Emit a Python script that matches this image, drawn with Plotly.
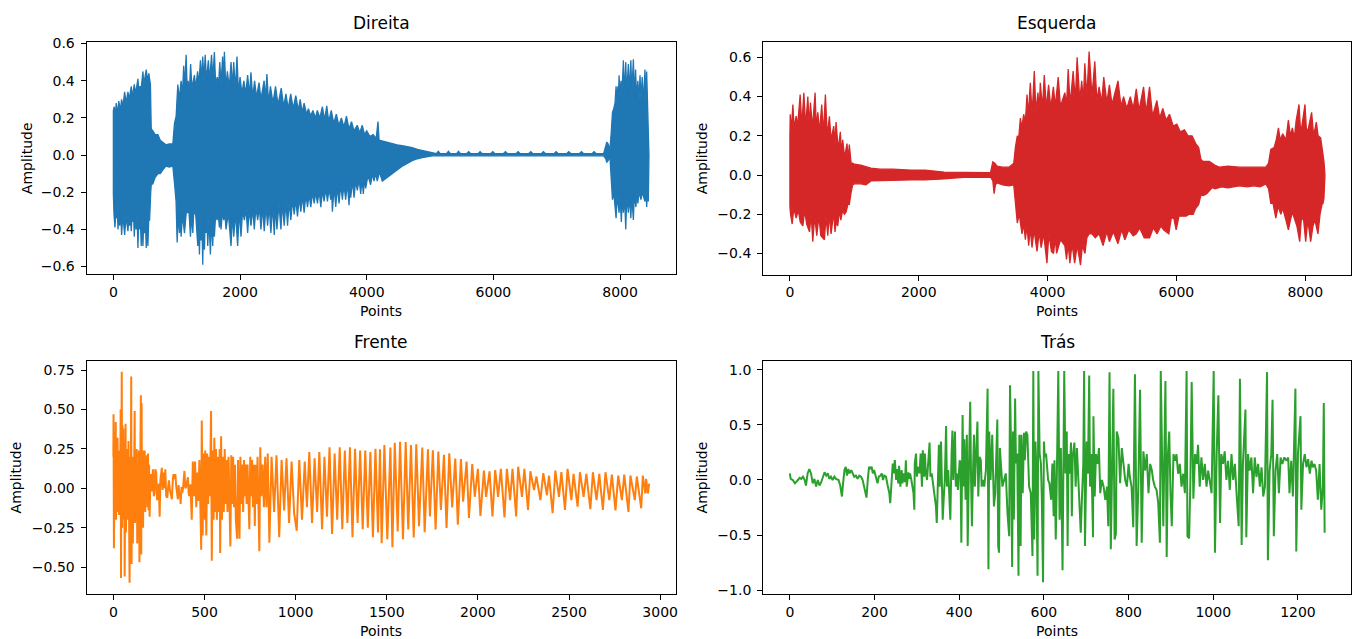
import plotly.graph_objects as go

# ---------------- data ----------------
# Direita: upper / lower outline of the waveform (sample index, amplitude)
D_UP = [(0,0.24),(15,0.26),(30,0.20),(45,0.28),(70,0.22),(85,0.29),(110,0.24),(130,0.30),(150,0.26),(178,0.34),
        (200,0.28),(230,0.34),(250,0.30),(283,0.37),(300,0.31),(330,0.38),(350,0.33),(388,0.41),(400,0.35),(420,0.37),
        (440,0.36),(467,0.45),(480,0.38),(500,0.42),(519,0.46),(540,0.40),(560,0.44),(572,0.41),(585,0.38),(598,0.14),
        (624,0.13),(660,0.11),(703,0.11),(740,0.08),(781,0.07),(830,0.055),(880,0.06),(939,0.06),(965,0.17),(991,0.21),
        (1005,0.30),(1018,0.38),(1040,0.30),(1070,0.40),(1090,0.32),(1110,0.48),(1125,0.36),(1149,0.54),(1165,0.36),(1180,0.40),
        (1200,0.34),(1220,0.49),(1240,0.36),(1280,0.43),(1300,0.36),(1330,0.45),(1350,0.38),(1375,0.51),(1395,0.40),(1411,0.53),
        (1430,0.40),(1450,0.54),(1470,0.40),(1500,0.51),(1520,0.40),(1550,0.54),(1570,0.41),(1595,0.555),(1615,0.38),(1640,0.42),
        (1660,0.37),(1680,0.50),(1700,0.38),(1725,0.53),(1740,0.38),(1753,0.556),(1775,0.36),(1800,0.45),(1830,0.36),(1858,0.50),
        (1880,0.36),(1900,0.50),(1925,0.35),(1952,0.53),(1975,0.33),(2000,0.42),(2030,0.33),(2060,0.40),(2090,0.33),(2120,0.43),
        (2150,0.32),(2172,0.445),(2200,0.31),(2230,0.40),(2260,0.31),(2300,0.39),(2330,0.30),(2380,0.40),(2400,0.30),(2424,0.436),
        (2450,0.28),(2480,0.37),(2520,0.28),(2560,0.37),(2600,0.27),(2650,0.36),(2690,0.26),(2724,0.33),(2760,0.25),(2800,0.33),
        (2840,0.25),(2880,0.32),(2920,0.24),(2950,0.30),(2980,0.23),(3012,0.28),(3050,0.22),(3080,0.25),(3115,0.21),(3150,0.24),
        (3190,0.20),(3220,0.24),(3260,0.20),(3300,0.26),(3335,0.19),(3369,0.265),(3400,0.18),(3440,0.24),(3480,0.17),(3520,0.22),
        (3560,0.16),(3600,0.20),(3640,0.15),(3680,0.21),(3720,0.14),(3760,0.18),(3800,0.13),(3850,0.16),(3890,0.12),(3930,0.16),
        (3965,0.11),(4000,0.13),(4050,0.10),(4100,0.11),(4150,0.09),(4178,0.18),(4195,0.08),(4246,0.075),(4300,0.07),(4404,0.06),
        (4480,0.055),(4561,0.05),(4640,0.045),(4719,0.04),(4800,0.03),(4876,0.025),(4950,0.02),(5034,0.012),(5100,0.008),(5130,0.02),
        (5160,0.008),(5260,0.008),(5290,0.02),(5320,0.008),(5420,0.008),(5450,0.02),(5480,0.008),(5580,0.008),(5610,0.018),(5640,0.008),
        (5760,0.008),(5790,0.018),(5820,0.008),(5960,0.008),(5990,0.018),(6020,0.008),(6160,0.008),(6190,0.018),(6220,0.008),(6360,0.008),
        (6390,0.018),(6420,0.008),(6560,0.008),(6590,0.018),(6620,0.008),(6760,0.008),(6790,0.018),(6820,0.008),(6960,0.008),(6990,0.018),
        (7020,0.008),(7160,0.008),(7190,0.018),(7220,0.008),(7360,0.008),(7390,0.018),(7420,0.008),(7560,0.008),(7590,0.018),(7620,0.008),
        (7740,0.008),(7775,0.05),(7790,0.07),(7810,0.06),(7840,0.03),(7860,0.12),(7880,0.23),(7900,0.25),(7920,0.28),(7937,0.37),
        (7950,0.28),(7965,0.37),(7975,0.30),(7984,0.43),(8000,0.31),(8015,0.40),(8030,0.33),(8052,0.51),(8065,0.33),(8090,0.50),
        (8105,0.33),(8131,0.49),(8145,0.33),(8170,0.51),(8185,0.33),(8210,0.515),(8225,0.32),(8245,0.46),(8260,0.30),(8280,0.40),
        (8300,0.30),(8315,0.43),(8330,0.30),(8350,0.42),(8370,0.28),(8393,0.46),(8410,0.27),(8420,0.45),(8435,0.24),(8446,0.23),
        (8456,0.0)]
D_LO = [(0,-0.21),(10,-0.32),(25,-0.39),(40,-0.30),(50,-0.34),(60,-0.28),(73,-0.40),(90,-0.30),(100,-0.38),(115,-0.30),
        (130,-0.43),(150,-0.32),(178,-0.43),(200,-0.33),(230,-0.41),(245,-0.33),(260,-0.38),(270,-0.33),(283,-0.41),(295,-0.32),
        (310,-0.36),(320,-0.32),(330,-0.44),(345,-0.33),(360,-0.40),(375,-0.33),(388,-0.50),(400,-0.34),(410,-0.40),(425,-0.34),
        (440,-0.49),(452,-0.34),(467,-0.49),(480,-0.35),(490,-0.42),(505,-0.36),(519,-0.50),(532,-0.36),(545,-0.49),(558,-0.35),
        (572,-0.35),(590,-0.20),(598,-0.16),(624,-0.155),(660,-0.12),(703,-0.10),(740,-0.10),(781,-0.08),(830,-0.06),(880,-0.065),
        (939,-0.06),(965,-0.15),(990,-0.25),(1007,-0.47),(1025,-0.32),(1044,-0.42),(1058,-0.32),(1070,-0.44),(1090,-0.32),(1123,-0.42),
        (1150,-0.31),(1175,-0.31),(1195,-0.31),(1217,-0.44),(1235,-0.32),(1254,-0.42),(1268,-0.31),(1280,-0.31),(1300,-0.32),(1333,-0.49),
        (1346,-0.34),(1359,-0.535),(1372,-0.34),(1385,-0.46),(1398,-0.34),(1411,-0.59),(1425,-0.34),(1438,-0.51),(1450,-0.34),(1464,-0.42),
        (1477,-0.34),(1490,-0.49),(1510,-0.34),(1532,-0.535),(1550,-0.34),(1569,-0.49),(1582,-0.33),(1595,-0.44),(1615,-0.32),(1637,-0.35),
        (1655,-0.31),(1674,-0.39),(1688,-0.31),(1700,-0.40),(1720,-0.31),(1742,-0.35),(1760,-0.31),(1779,-0.40),(1815,-0.31),(1858,-0.49),
        (1880,-0.31),(1900,-0.44),(1930,-0.31),(1962,-0.49),(1990,-0.30),(2015,-0.44),(2040,-0.30),(2068,-0.35),(2095,-0.29),(2120,-0.42),
        (2145,-0.29),(2172,-0.38),(2200,-0.29),(2225,-0.40),(2250,-0.28),(2278,-0.35),(2305,-0.28),(2330,-0.40),(2355,-0.28),(2382,-0.41),
        (2410,-0.27),(2435,-0.38),(2460,-0.27),(2487,-0.42),(2515,-0.27),(2540,-0.43),(2560,-0.27),(2582,-0.40),(2615,-0.26),(2645,-0.40),
        (2670,-0.26),(2697,-0.38),(2725,-0.25),(2750,-0.38),(2775,-0.25),(2802,-0.35),(2830,-0.24),(2855,-0.32),(2880,-0.24),(2907,-0.33),
        (2935,-0.23),(2960,-0.305),(2985,-0.22),(3012,-0.31),(3040,-0.21),(3065,-0.28),(3090,-0.21),(3117,-0.28),(3145,-0.20),(3170,-0.26),
        (3195,-0.20),(3222,-0.26),(3250,-0.19),(3275,-0.28),(3300,-0.19),(3327,-0.25),(3355,-0.18),(3380,-0.25),(3405,-0.18),(3432,-0.24),
        (3445,-0.18),(3458,-0.305),(3485,-0.17),(3511,-0.28),(3535,-0.17),(3563,-0.26),(3590,-0.16),(3616,-0.24),(3640,-0.16),(3668,-0.24),
        (3695,-0.15),(3721,-0.27),(3735,-0.15),(3747,-0.23),(3775,-0.14),(3800,-0.23),(3825,-0.14),(3852,-0.19),(3880,-0.13),(3905,-0.21),
        (3925,-0.13),(3947,-0.21),(3965,-0.12),(3983,-0.18),(4020,-0.11),(4062,-0.16),(4090,-0.10),(4115,-0.14),(4140,-0.10),(4167,-0.14),
        (4200,-0.09),(4246,-0.14),(4300,-0.13),(4404,-0.10),(4480,-0.08),(4561,-0.06),(4640,-0.045),(4719,-0.03),(4800,-0.02),(4876,-0.014),
        (4950,-0.008),(5034,-0.004),(7740,-0.004),(7775,-0.02),(7790,-0.04),(7810,-0.03),(7840,-0.01),(7860,-0.14),(7880,-0.24),(7900,-0.20),
        (7937,-0.34),(7950,-0.22),(7984,-0.31),(8000,-0.22),(8020,-0.36),(8035,-0.22),(8052,-0.31),(8070,-0.22),(8090,-0.40),(8105,-0.22),
        (8131,-0.31),(8150,-0.22),(8170,-0.34),(8185,-0.22),(8210,-0.35),(8225,-0.21),(8250,-0.28),(8265,-0.20),(8280,-0.26),(8300,-0.20),
        (8330,-0.24),(8350,-0.20),(8393,-0.25),(8410,-0.19),(8420,-0.28),(8435,-0.18),(8446,-0.25),(8456,0.0)]

# Esquerda: upper / lower outline
E_UP = [(0,0.20),(5,0.31),(20,0.22),(46,0.36),(65,0.24),(97,0.30),(120,0.25),(159,0.41),(185,0.25),(216,0.42),
        (245,0.25),(278,0.40),(300,0.25),(319,0.37),(350,0.24),(391,0.42),(410,0.24),(433,0.32),(460,0.22),(494,0.36),
        (520,0.21),(551,0.41),(580,0.20),(613,0.30),(640,0.18),(680,0.25),(700,0.16),(716,0.27),(750,0.13),(783,0.22),
        (800,0.11),(819,0.18),(850,0.09),(886,0.16),(905,0.08),(922,0.155),(950,0.06),(974,0.06),(1000,0.055),(1100,0.05),
        (1258,0.035),(1400,0.03),(1600,0.03),(1876,0.025),(2100,0.025),(2392,0.015),(2700,0.013),(3000,0.012),(3114,0.012),(3150,0.067),
        (3180,0.06),(3217,0.045),(3300,0.04),(3400,0.04),(3475,0.06),(3500,0.14),(3530,0.20),(3552,0.19),(3578,0.29),(3600,0.24),
        (3629,0.31),(3655,0.27),(3681,0.41),(3700,0.30),(3732,0.47),(3760,0.31),(3794,0.53),(3820,0.32),(3850,0.42),(3870,0.33),
        (3887,0.47),(3920,0.34),(3949,0.51),(3980,0.34),(4016,0.46),(4050,0.34),(4090,0.45),(4120,0.35),(4165,0.50),(4200,0.35),
        (4268,0.42),(4295,0.36),(4320,0.54),(4350,0.36),(4397,0.53),(4430,0.38),(4459,0.60),(4500,0.38),(4530,0.48),(4555,0.38),
        (4578,0.57),(4610,0.40),(4645,0.63),(4690,0.40),(4733,0.58),(4765,0.38),(4800,0.45),(4840,0.37),(4872,0.50),(4920,0.37),
        (4960,0.46),(5000,0.36),(5050,0.43),(5093,0.48),(5140,0.35),(5180,0.40),(5230,0.34),(5284,0.40),(5330,0.34),(5377,0.44),
        (5420,0.33),(5490,0.45),(5530,0.32),(5583,0.45),(5630,0.30),(5697,0.38),(5740,0.29),(5789,0.34),(5840,0.28),(5893,0.31),
        (5950,0.25),(6006,0.26),(6060,0.22),(6125,0.23),(6180,0.20),(6243,0.20),(6300,0.16),(6346,0.14),(6380,0.08),(6408,0.07),
        (6511,0.07),(6600,0.05),(6666,0.04),(6800,0.045),(6975,0.04),(7150,0.04),(7388,0.04),(7430,0.06),(7465,0.13),(7517,0.14),
        (7550,0.18),(7584,0.24),(7610,0.18),(7650,0.21),(7700,0.18),(7738,0.28),(7770,0.20),(7800,0.24),(7830,0.19),(7860,0.28),
        (7903,0.36),(7930,0.21),(7960,0.28),(7996,0.36),(8020,0.22),(8050,0.24),(8099,0.32),(8130,0.20),(8172,0.27),(8200,0.20),
        (8239,0.19),(8270,0.12),(8290,0.07),(8306,0.0)]
E_LO = [(0,-0.16),(10,-0.20),(35,-0.25),(60,-0.17),(97,-0.22),(130,-0.18),(160,-0.24),(201,-0.26),(230,-0.18),(260,-0.25),
        (304,-0.29),(330,-0.20),(355,-0.34),(385,-0.21),(417,-0.31),(450,-0.21),(480,-0.31),(536,-0.33),(560,-0.21),(588,-0.31),
        (610,-0.20),(639,-0.30),(680,-0.19),(700,-0.29),(716,-0.24),(742,-0.26),(770,-0.18),(790,-0.23),(819,-0.18),(845,-0.20),
        (871,-0.19),(900,-0.15),(922,-0.15),(950,-0.09),(974,-0.05),(1000,-0.045),(1100,-0.045),(1180,-0.05),(1258,-0.03),(1500,-0.03),
        (1876,-0.025),(2100,-0.025),(2392,-0.02),(2700,-0.012),(3114,-0.01),(3150,-0.03),(3170,-0.095),(3190,-0.05),(3217,-0.04),(3300,-0.05),
        (3400,-0.055),(3475,-0.05),(3500,-0.145),(3530,-0.245),(3560,-0.20),(3603,-0.30),(3630,-0.25),(3655,-0.33),(3680,-0.26),(3707,-0.36),
        (3730,-0.27),(3758,-0.37),(3790,-0.28),(3836,-0.39),(3870,-0.29),(3900,-0.37),(3940,-0.30),(3990,-0.45),(4020,-0.30),(4060,-0.39),
        (4093,-0.40),(4120,-0.32),(4140,-0.40),(4200,-0.33),(4268,-0.36),(4294,-0.43),(4320,-0.35),(4346,-0.45),(4380,-0.35),(4420,-0.45),
        (4460,-0.36),(4511,-0.46),(4540,-0.36),(4580,-0.40),(4610,-0.32),(4645,-0.30),(4690,-0.30),(4740,-0.32),(4800,-0.30),(4861,-0.36),
        (4920,-0.29),(4960,-0.34),(5020,-0.29),(5093,-0.35),(5150,-0.28),(5200,-0.33),(5260,-0.28),(5330,-0.31),(5377,-0.30),(5430,-0.27),
        (5500,-0.32),(5583,-0.32),(5640,-0.27),(5700,-0.30),(5760,-0.26),(5800,-0.28),(5882,-0.30),(5920,-0.22),(5960,-0.22),(5996,-0.28),
        (6040,-0.21),(6100,-0.21),(6150,-0.21),(6200,-0.20),(6260,-0.20),(6300,-0.17),(6346,-0.15),(6382,-0.10),(6420,-0.105),(6470,-0.095),
        (6553,-0.065),(6600,-0.07),(6700,-0.06),(6800,-0.065),(6975,-0.055),(7100,-0.06),(7200,-0.055),(7300,-0.06),(7388,-0.045),(7430,-0.07),
        (7465,-0.145),(7500,-0.145),(7543,-0.22),(7580,-0.16),(7620,-0.20),(7650,-0.17),(7700,-0.23),(7738,-0.28),(7770,-0.23),(7800,-0.19),
        (7840,-0.23),(7870,-0.26),(7914,-0.34),(7940,-0.22),(7975,-0.23),(8007,-0.34),(8040,-0.23),(8084,-0.34),(8120,-0.26),(8150,-0.23),
        (8197,-0.30),(8230,-0.20),(8260,-0.15),(8275,-0.145),(8290,-0.12),(8306,0.0)]

# Frente: waveform vertices (sample index, amplitude)
F_WAVE = [(0,0.20),(1,0.47),(3,-0.38),(5,0.25),(7,-0.05),(9,0.36),(11,-0.17),(13,0.42),(15,-0.20),(18,0.30),
          (20,-0.15),(23,0.32),(25,-0.13),(28,0.24),(31,-0.17),(34,0.20),(37,-0.10),(40,0.50),(42,-0.57),(44,0.10),
          (46,0.74),(48,-0.25),(50,0.40),(52,-0.05),(55,0.38),(57,-0.20),(60,0.20),(62,-0.56),(64,0.30),(67,0.41),
          (69,-0.28),(72,0.25),(74,-0.10),(77,0.18),(80,-0.20),(83,0.30),(86,-0.30),(89,-0.60),(92,0.20),(95,-0.30),
          (98,0.71),(100,-0.48),(102,0.10),(105,0.20),(107,-0.35),(110,0.12),(113,-0.20),(115,0.26),(117,0.49),(119,-0.22),
          (122,0.10),(125,-0.20),(128,0.25),(131,-0.35),(134,0.15),(137,-0.25),(140,0.24),(143,-0.47),(146,0.30),(148,-0.20),
          (151,0.59),(153,-0.42),(155,0.54),(157,-0.10),(160,0.15),(163,-0.25),(166,0.24),(169,-0.10),(172,0.24),(175,-0.15),
          (178,0.20),(181,-0.05),(184,0.21),(187,-0.12),(190,0.22),(193,-0.14),(196,0.15),(199,-0.18),(203,0.05),(208,0.09),
          (212,-0.02),(217,0.12),(222,-0.05),(226,-0.03),(230,0.12),(235,0.10),(240,-0.07),(244,-0.07),(249,0.03),(254,-0.18),
          (258,0.05),(262,0.12),(266,0.13),(270,-0.01),(275,0.10),(280,0.0),(285,0.12),(290,-0.05),(296,-0.06),(300,0.0),
          (305,0.05),(310,-0.01),(315,-0.04),(321,-0.07),(326,0.05),(330,0.09),(335,0.06),(340,0.09),(345,0.01),(349,-0.02),
          (354,-0.07),(358,0.02),(362,-0.05),(366,-0.04),(369,-0.10),(374,0.01),(378,-0.03),(382,0.0),(386,0.05),(390,0.11),
          (395,0.0),(400,0.01),(404,0.04),(409,0.07),(413,-0.03),(416,-0.05),(420,0.02),(423,0.02),(430,-0.20),(436,0.17),
          (442,-0.05),(448,0.17),(455,-0.12),(460,0.10),(466,-0.08),(472,0.18),(478,-0.15),(482,-0.39),(485,0.43),(490,-0.30),
          (494,0.22),(499,-0.20),(504,0.24),(510,-0.30),(515,0.22),(520,-0.10),(525,0.20),(530,-0.05),(536,0.49),(540,-0.46),
          (545,0.24),(550,-0.20),(554,0.32),(559,-0.15),(563,0.25),(568,-0.20),(574,0.20),(579,-0.15),(583,0.25),(586,-0.41),
          (591,0.33),(596,-0.20),(601,0.20),(606,-0.15),(611,0.25),(616,-0.10),(621,0.18),(626,-0.15),(632,0.20),(637,-0.25),
          (642,-0.37),(647,0.21),(652,-0.10),(657,0.20),(662,-0.12),(667,0.15),(672,-0.20),(679,-0.32),(684,0.18),(688,-0.10),
          (692,-0.32),(697,0.20),(702,-0.10),(707,0.15),(712,-0.15),(717,0.18),(721,-0.05),(726,0.15),(731,-0.10),(736,0.15),
          (741,-0.12),(746,-0.26),(751,0.20),(756,-0.05),(761,0.18),(766,-0.12),(771,0.15),(776,-0.24),(781,0.15),(786,-0.10),
          (791,0.20),(796,-0.15),(801,-0.40),(806,0.26),(812,-0.05),(819,0.15),(826,-0.12),(833,0.20),(840,-0.12),(847,0.22),
          (856,-0.345),(868,0.20),(882,-0.15),(895,0.21),(910,-0.31),(923,0.18),(937,-0.14),(950,0.19),(964,-0.22),(978,0.17),
          (992,-0.16),(1006,-0.27),(1020,0.18),(1035,-0.20),(1050,0.17),(1062,-0.12),(1075,0.23),
          (1090,-0.22),(1104,0.19),(1118,-0.15),(1130,0.23),(1145,-0.26),(1158,0.20),(1172,-0.18),(1186,0.26),(1200,-0.29),(1214,0.22),
          (1228,-0.20),(1242,0.26),(1256,-0.26),(1270,0.24),(1284,-0.22),(1298,0.26),(1312,-0.31),(1326,0.25),(1340,-0.22),(1354,0.24),
          (1368,-0.26),(1382,0.24),(1396,-0.25),(1410,0.23),(1424,-0.31),(1438,0.25),(1452,-0.28),(1463,0.247),(1472,-0.349),(1487,0.275),
          (1503,-0.324),(1520,0.258),(1531,-0.374),(1544,0.289),(1560,-0.274),(1573,0.295),(1589,-0.324),(1604,0.293),(1618,-0.262),(1633,0.275),
          (1648,-0.312),(1662,0.279),(1677,-0.241),(1695,0.258),(1708,-0.279),(1726,0.247),(1737,-0.179),(1753,0.241),(1768,-0.262),(1783,0.233),
          (1797,-0.137),(1814,0.212),(1828,-0.252),(1843,0.222),(1859,-0.121),(1876,0.189),(1890,-0.231),(1907,0.185),(1919,-0.085),(1938,0.170),
          (1951,-0.189),(1969,0.154),(1983,-0.054),(2000,0.123),(2014,-0.175),(2033,0.112),(2045,-0.054),(2064,0.108),(2080,-0.179),(2095,0.116),
          (2111,-0.054),(2126,0.123),(2146,-0.185),(2159,0.123),(2177,-0.075),(2190,0.123),(2210,-0.179),(2221,0.137),(2242,-0.054),(2255,0.123),
          (2275,-0.137),(2288,0.108),(2308,-0.012),(2321,0.075),(2343,-0.075),(2359,0.096),(2379,-0.044),(2390,0.081),(2410,-0.158),(2425,0.112),
          (2445,-0.054),(2458,0.102),(2478,-0.137),(2492,0.123),(2513,-0.075),(2525,0.091),(2547,-0.116),(2560,0.102),(2580,-0.054),(2595,0.091),
          (2617,-0.133),(2631,0.102),(2651,-0.075),(2666,0.091),(2686,-0.137),(2700,0.102),(2721,-0.075),(2735,0.087),(2755,-0.141),(2770,0.081),
          (2790,-0.075),(2803,0.087),(2826,-0.150),(2837,0.081),(2861,-0.075),(2872,0.075),(2896,-0.127),(2905,0.081),(2918,-0.033),(2923,0.060),
          (2932,-0.033),(2940,0.029)]

# Tras: waveform vertices (sample index, amplitude)
T_WAVE = [(0,0.06),(2,0.01),(7,0.0),(12,-0.03),(19,0.0),(23,0.02),(27,0.01),(31,0.03),(35,0.0),(38,-0.05),
          (42,0.06),(46,0.10),(50,0.06),(54,-0.03),(58,0.01),(62,-0.06),(66,0.0),(70,-0.05),(74,-0.02),(78,0.03),
          (82,0.07),(86,0.04),(90,0.06),(93,0.01),(97,0.03),(101,0.0),(105,0.03),(109,0.01),(115,0.0),(119,-0.05),
          (123,-0.15),(126,-0.02),(129,0.09),(132,0.12),(135,0.04),(138,0.10),(141,0.06),(145,0.09),(148,0.06),(152,0.03),
          (156,0.04),(160,0.01),(164,0.04),(168,0.03),(172,0.0),(176,-0.06),(181,-0.16),(184,0.0),(187,0.12),(190,0.10),
          (193,0.12),(196,0.06),(199,0.09),(203,0.03),(207,-0.03),(210,0.03),(214,0.04),(217,0.06),(220,0.0),(223,0.04),
          (227,0.03),(231,-0.05),(235,-0.12),(237,-0.21),(240,-0.06),(243,0.15),(245,0.06),(248,0.18),(251,0.0),(253,0.10),
          (256,-0.03),(258,0.13),(261,-0.06),(264,0.09),(266,-0.03),(269,0.06),(272,-0.02),(274,0.18),(276,-0.06),(280,0.07),
          (282,0.01),(284,0.06),(287,0.0),(290,-0.06),(292,-0.12),(294,-0.27),(295,0.15),(298,0.24),(300,0.03),(303,0.12),
          (306,0.06),(309,0.24),(312,-0.06),(314,0.27),(317,0.03),(319,0.24),(321,0.07),(324,0.0),(327,0.18),(330,0.34),
          (332,0.03),(335,0.06),(337,0.0),(339,-0.06),(342,-0.12),(345,-0.24),(347,-0.39),(349,-0.15),(352,0.32),(354,-0.06),
          (357,0.35),(359,0.0),(361,-0.36),(364,-0.12),(366,0.0),(369,0.49),(371,-0.06),(374,0.09),(376,-0.12),(379,-0.36),
          (382,0.24),(384,0.45),(386,0.0),(390,0.44),(392,-0.06),(394,0.06),(397,-0.09),(401,0.18),(403,0.15),(405,-0.57),
          (408,0.59),(410,-0.06),(412,0.37),(415,-0.18),(418,0.41),(420,-0.60),(423,0.12),(426,0.71),(428,0.0),(430,-0.42),
          (433,0.15),(435,0.41),(437,-0.06),(440,0.21),(443,0.53),(445,-0.15),(448,0.21),(451,0.18),(453,-0.06),(456,0.0),
          (459,-0.06),(463,0.09),(467,0.83),(469,-0.81),(471,0.44),(474,0.0),(478,0.41),(480,0.06),(482,-0.24),(485,-0.12),
          (487,0.24),(490,0.55),(492,-0.60),(494,-0.66),(496,0.29),(499,0.12),(502,-0.06),(506,0.0),(510,0.06),(514,-0.30),
          (518,-0.51),(520,0.86),(522,0.41),(525,-0.79),(527,0.44),(529,-0.36),(532,0.74),(534,0.15),(537,0.24),(540,-0.87),
          (542,0.41),(545,-0.60),(547,0.41),(550,-0.12),(553,0.43),(555,0.18),(558,0.44),(561,0.41),(563,0.12),(565,-0.06),
          (569,-0.12),(573,-0.69),(575,0.99),(577,-0.54),(580,0.35),(582,0.12),(585,-0.87),(587,0.99),(590,0.24),(593,0.15),
          (595,-0.15),(598,-0.93),(600,0.35),(602,0.21),(605,0.24),(608,0.09),(610,0.0),(613,-0.03),(617,-0.18),(620,0.15),
          (623,-0.33),(625,0.18),(628,-0.54),(630,-0.12),(634,0.99),(637,-0.36),(640,0.29),(644,-0.82),(648,0.99),(651,0.06),
          (654,0.44),(656,-0.60),(658,0.235),(661,0.057),(664,0.34),(666,-0.33),(668,0.205),(672,0.34),(675,-0.06),(678,0.29),
          (681,0.0),(684,-0.12),(687,-0.48),(690,-0.15),(693,0.146),(695,0.99),(697,-0.60),(701,0.35),(704,0.057),(707,0.95),
          (709,-0.06),(712,0.235),(716,-0.52),(717,0.58),(720,-0.15),(723,0.235),(727,0.146),(730,0.29),(733,-0.12),(737,0.0),
          (741,-0.06),(745,-0.18),(749,-0.06),(752,-0.42),(755,0.98),(758,-0.63),(761,0.086),(764,0.83),(767,-0.54),(770,-0.49),
          (772,0.44),(776,0.38),(780,-0.03),(784,0.29),(788,0.146),(792,0.0),(796,-0.06),(800,0.146),(803,0.027),(807,-0.06),
          (811,-0.43),(815,0.96),(819,-0.60),(823,-0.06),(827,0.82),(831,-0.57),(835,0.26),(839,0.086),(843,0.235),(847,-0.12),
          (851,0.146),(855,0.086),(858,0.0),(862,-0.06),(866,-0.09),(870,-0.21),(874,-0.57),(876,0.99),(879,0.235),(882,-0.42),
          (887,0.90),(890,-0.70),(893,0.235),(896,0.44),(899,-0.12),(902,-0.42),(906,0.235),(910,0.175),(913,0.235),(917,0.057),
          (921,0.146),(925,-0.06),(929,0.057),(933,-0.12),(937,0.99),(939,-0.51),(943,-0.53),(946,0.0),(949,0.89),(953,-0.17),
          (957,0.235),(961,0.146),(964,0.32),(968,-0.06),(972,0.205),(976,0.0),(980,0.146),(984,-0.06),(988,0.086),(992,0.0),
          (996,-0.12),(1001,0.99),(1004,-0.66),(1008,0.235),(1012,0.77),(1016,-0.39),(1019,0.235),(1023,0.146),(1027,0.26),(1031,0.0),
          (1035,0.175),(1039,-0.09),(1043,0.235),(1047,0.0),(1051,0.146),(1055,-0.12),(1060,-0.42),(1063,0.92),(1067,-0.59),(1070,0.146),
          (1076,0.64),(1078,-0.52),(1082,0.235),(1086,0.086),(1090,0.205),(1094,-0.12),(1098,0.205),(1102,0.027),(1106,0.146),(1110,-0.06),
          (1114,0.116),(1118,-0.15),(1122,-0.06),(1127,0.98),(1129,-0.73),(1133,0.086),(1137,0.235),(1140,0.73),(1143,-0.51),(1147,0.086),
          (1151,0.235),(1155,-0.12),(1159,0.205),(1163,0.146),(1168,0.205),(1173,0.175),(1177,0.205),(1180,-0.12),(1184,0.175),(1188,-0.15),
          (1194,0.83),(1196,-0.65),(1200,0.235),(1206,0.58),(1208,-0.27),(1212,0.146),(1216,0.235),(1220,0.116),(1224,0.19),(1228,0.057),
          (1232,0.175),(1235,0.116),(1239,0.146),(1243,0.086),(1247,-0.18),(1251,0.146),(1255,-0.27),(1259,-0.06),(1261,0.70),(1263,-0.48)]

TITLES = ["Direita", "Esquerda", "Frente", "Trás"]
COLORS = ["#1f77b4", "#d62728", "#ff7f0e", "#2ca02c"]
X_LABEL = "Points"
Y_LABEL = "Amplitude"

# ---------------- figure ----------------
W, H = 1358, 639
FONT = "DejaVu Sans"

def px(v):   # horizontal pixel -> paper
    return v / W

def py(v):   # vertical pixel (from top) -> paper
    return 1 - v / H

# axes boxes in pixels: left, right, top, bottom
BOXES = [(86.7, 677.0, 35.7, 272.0), (764.3, 1353.3, 35.7, 272.3),
         (86.7, 677.0, 360.0, 597.3), (764.3, 1353.3, 360.0, 597.3)]
XRANGES = [(-423, 8883), (-415, 8715), (-147, 3087), (-63, 1326)]
YRANGES = [(-0.642, 0.608), (-0.508, 0.678), (-0.671, 0.809), (-1.036, 1.083)]
XDTICK = [2000, 2000, 500, 200]
YDTICK = [0.2, 0.2, 0.25, 0.5]
YFMT = [".1f", ".1f", ".2f", ".1f"]

fig = go.Figure()

def outline(up, lo):
    xs = [p[0] for p in up] + [p[0] for p in reversed(lo)]
    ys = [p[1] for p in up] + [p[1] for p in reversed(lo)]
    return xs + [xs[0]], ys + [ys[0]]

for i, (up, lo) in enumerate([(D_UP, D_LO), (E_UP, E_LO)]):
    xs, ys = outline(up, lo)
    fig.add_trace(go.Scatter(x=xs, y=ys, mode="lines", fill="toself", fillcolor=COLORS[i],
                             line=dict(color=COLORS[i], width=1.3),
                             xaxis=f"x{i+1 if i else ''}", yaxis=f"y{i+1 if i else ''}",
                             hoverinfo="skip", showlegend=False))

for i, wave in [(2, F_WAVE), (3, T_WAVE)]:
    fig.add_trace(go.Scatter(x=[p[0] for p in wave], y=[p[1] for p in wave], mode="lines",
                             line=dict(color=COLORS[i], width=2),
                             xaxis=f"x{i+1}", yaxis=f"y{i+1}",
                             hoverinfo="skip", showlegend=False))

layout = dict(width=W, height=H, margin=dict(l=0, r=0, t=0, b=0),
              paper_bgcolor="white", plot_bgcolor="white",
              font=dict(family=FONT, size=14, color="black"), showlegend=False)
annotations = []
for i, (l, r, t, b) in enumerate(BOXES):
    k = "" if i == 0 else str(i + 1)
    common = dict(showline=True, mirror=True, linecolor="black", linewidth=1,
                  ticks="outside", ticklen=5, tickwidth=1, tickcolor="black",
                  showgrid=False, zeroline=False, tickfont=dict(family=FONT, size=14, color="black"))
    layout["xaxis" + k] = dict(domain=[px(l), px(r)], range=list(XRANGES[i]), anchor="y" + k,
                               dtick=XDTICK[i], tick0=0, tickformat="d", **common)
    layout["yaxis" + k] = dict(domain=[py(b), py(t)], range=list(YRANGES[i]), anchor="x" + k,
                               dtick=YDTICK[i], tick0=0, tickformat=YFMT[i], ticklabelstandoff=3, **common)
    cx = (l + r) / 2
    annotations.append(dict(text=TITLES[i], x=px(cx), y=py(t - 7), xref="paper", yref="paper",
                            xanchor="center", yanchor="bottom", showarrow=False,
                            font=dict(family=FONT, size=17, color="black")))
    annotations.append(dict(text=X_LABEL, x=px(cx), y=py(b + 27), xref="paper", yref="paper",
                            xanchor="center", yanchor="top", showarrow=False,
                            font=dict(family=FONT, size=14, color="black")))
    ylx = [27, 703, 16, 703][i]
    annotations.append(dict(text=Y_LABEL, x=px(ylx), y=py((t + b) / 2), xref="paper", yref="paper",
                            xanchor="center", yanchor="middle", textangle=-90, showarrow=False,
                            font=dict(family=FONT, size=14, color="black")))
layout["annotations"] = annotations
fig.update_layout(**layout)
fig.write_html("out.html")
